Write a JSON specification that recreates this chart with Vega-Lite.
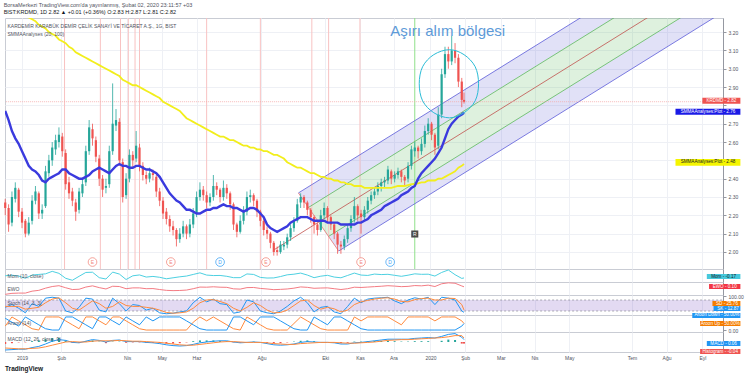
{
"$schema":"https://vega.github.io/schema/vega-lite/v6.json",
"padding":{"left":3,"top":2,"right":2,"bottom":0},
"background":"white",
"spacing":0,
"bounds":"flush",
"title":{"text":"BorsaMerkezi TradingView.com'da yayınlanmış, Şubat 02, 2020 23:11:57 +03","subtitle":"BIST:KRDMD, 1D  2.82 ▲ +0.01 (+0.36%)  O:2.83  H:2.87  L:2.81  C:2.82","anchor":"start","frame":"bounds","fontSize":5.5,"fontWeight":"normal","color":"#50535e","subtitleFontSize":5.5,"subtitleColor":"#131722","subtitlePadding":1.5,"offset":2},
"config":{"view":{"stroke":"#c9ccd4","strokeWidth":1},"font":"Liberation Sans","text":{"font":"Liberation Sans"}},
"resolve":{"scale":{"x":"independent","y":"independent"}},
"datasets":{
"k":[
{"d":"2018-12-17","o":2.27,"h":2.29,"l":2.20,"c":2.24,"s20":2.77,"s100":3.37},
{"d":"2018-12-20","o":2.24,"h":2.26,"l":2.11,"c":2.15,"s20":2.72,"s100":3.36},
{"d":"2018-12-23","o":2.16,"h":2.33,"l":2.14,"c":2.30,"s20":2.66,"s100":3.34},
{"d":"2018-12-26","o":2.29,"h":2.38,"l":2.27,"c":2.35,"s20":2.62,"s100":3.33},
{"d":"2018-12-29","o":2.34,"h":2.35,"l":2.19,"c":2.22,"s20":2.59,"s100":3.32},
{"d":"2019-01-01","o":2.22,"h":2.24,"l":2.13,"c":2.16,"s20":2.55,"s100":3.31},
{"d":"2019-01-04","o":2.17,"h":2.18,"l":2.08,"c":2.10,"s20":2.51,"s100":3.30},
{"d":"2019-01-07","o":2.10,"h":2.19,"l":2.09,"c":2.16,"s20":2.47,"s100":3.28},
{"d":"2019-01-10","o":2.17,"h":2.31,"l":2.15,"c":2.28,"s20":2.45,"s100":3.27},
{"d":"2019-01-13","o":2.28,"h":2.36,"l":2.26,"c":2.33,"s20":2.44,"s100":3.26},
{"d":"2019-01-16","o":2.32,"h":2.33,"l":2.18,"c":2.21,"s20":2.42,"s100":3.24},
{"d":"2019-01-19","o":2.21,"h":2.26,"l":2.18,"c":2.23,"s20":2.39,"s100":3.23},
{"d":"2019-01-22","o":2.25,"h":2.47,"l":2.24,"c":2.44,"s20":2.38,"s100":3.22},
{"d":"2019-01-25","o":2.43,"h":2.53,"l":2.41,"c":2.50,"s20":2.40,"s100":3.20},
{"d":"2019-01-28","o":2.50,"h":2.60,"l":2.47,"c":2.57,"s20":2.41,"s100":3.19},
{"d":"2019-01-31","o":2.56,"h":2.64,"l":2.53,"c":2.61,"s20":2.42,"s100":3.18},
{"d":"2019-02-03","o":2.60,"h":2.68,"l":2.57,"c":2.64,"s20":2.43,"s100":3.16},
{"d":"2019-02-06","o":2.63,"h":2.65,"l":2.52,"c":2.55,"s20":2.45,"s100":3.15},
{"d":"2019-02-09","o":2.54,"h":2.56,"l":2.34,"c":2.37,"s20":2.45,"s100":3.14},
{"d":"2019-02-12","o":2.38,"h":2.41,"l":2.29,"c":2.32,"s20":2.43,"s100":3.12},
{"d":"2019-02-15","o":2.33,"h":2.35,"l":2.25,"c":2.28,"s20":2.42,"s100":3.11},
{"d":"2019-02-18","o":2.27,"h":2.29,"l":2.17,"c":2.22,"s20":2.41,"s100":3.09},
{"d":"2019-02-21","o":2.23,"h":2.35,"l":2.21,"c":2.33,"s20":2.40,"s100":3.08},
{"d":"2019-02-24","o":2.32,"h":2.40,"l":2.30,"c":2.37,"s20":2.40,"s100":3.07},
{"d":"2019-02-27","o":2.38,"h":2.58,"l":2.36,"c":2.55,"s20":2.41,"s100":3.06},
{"d":"2019-03-02","o":2.55,"h":2.72,"l":2.53,"c":2.68,"s20":2.42,"s100":3.05},
{"d":"2019-03-05","o":2.67,"h":2.70,"l":2.58,"c":2.62,"s20":2.44,"s100":3.04},
{"d":"2019-03-08","o":2.61,"h":2.63,"l":2.49,"c":2.52,"s20":2.45,"s100":3.03},
{"d":"2019-03-11","o":2.51,"h":2.53,"l":2.36,"c":2.40,"s20":2.46,"s100":3.02},
{"d":"2019-03-14","o":2.40,"h":2.42,"l":2.30,"c":2.34,"s20":2.45,"s100":3.01},
{"d":"2019-03-17","o":2.35,"h":2.40,"l":2.32,"c":2.36,"s20":2.44,"s100":3.00},
{"d":"2019-03-20","o":2.37,"h":2.58,"l":2.35,"c":2.55,"s20":2.43,"s100":2.99},
{"d":"2019-03-23","o":2.55,"h":2.92,"l":2.53,"c":2.70,"s20":2.45,"s100":2.98},
{"d":"2019-03-26","o":2.69,"h":2.78,"l":2.66,"c":2.72,"s20":2.47,"s100":2.97},
{"d":"2019-03-29","o":2.71,"h":2.73,"l":2.47,"c":2.50,"s20":2.48,"s100":2.96},
{"d":"2019-04-01","o":2.49,"h":2.51,"l":2.27,"c":2.30,"s20":2.47,"s100":2.94},
{"d":"2019-04-04","o":2.31,"h":2.43,"l":2.29,"c":2.40,"s20":2.47,"s100":2.93},
{"d":"2019-04-07","o":2.40,"h":2.56,"l":2.38,"c":2.53,"s20":2.46,"s100":2.92},
{"d":"2019-04-10","o":2.53,"h":2.55,"l":2.46,"c":2.50,"s20":2.46,"s100":2.91},
{"d":"2019-04-13","o":2.51,"h":2.66,"l":2.49,"c":2.58,"s20":2.47,"s100":2.91},
{"d":"2019-04-16","o":2.57,"h":2.59,"l":2.44,"c":2.47,"s20":2.47,"s100":2.90},
{"d":"2019-04-19","o":2.47,"h":2.49,"l":2.39,"c":2.42,"s20":2.46,"s100":2.89},
{"d":"2019-04-22","o":2.42,"h":2.44,"l":2.37,"c":2.40,"s20":2.45,"s100":2.88},
{"d":"2019-04-25","o":2.40,"h":2.46,"l":2.38,"c":2.43,"s20":2.45,"s100":2.87},
{"d":"2019-04-28","o":2.43,"h":2.45,"l":2.39,"c":2.42,"s20":2.44,"s100":2.86},
{"d":"2019-05-01","o":2.41,"h":2.42,"l":2.30,"c":2.33,"s20":2.43,"s100":2.85},
{"d":"2019-05-04","o":2.33,"h":2.35,"l":2.25,"c":2.28,"s20":2.41,"s100":2.84},
{"d":"2019-05-07","o":2.28,"h":2.30,"l":2.18,"c":2.21,"s20":2.38,"s100":2.82},
{"d":"2019-05-10","o":2.22,"h":2.24,"l":2.15,"c":2.18,"s20":2.35,"s100":2.81},
{"d":"2019-05-13","o":2.18,"h":2.20,"l":2.11,"c":2.14,"s20":2.32,"s100":2.80},
{"d":"2019-05-16","o":2.14,"h":2.17,"l":2.09,"c":2.12,"s20":2.30,"s100":2.79},
{"d":"2019-05-19","o":2.12,"h":2.13,"l":2.03,"c":2.07,"s20":2.28,"s100":2.78},
{"d":"2019-05-22","o":2.07,"h":2.13,"l":2.05,"c":2.10,"s20":2.27,"s100":2.77},
{"d":"2019-05-25","o":2.10,"h":2.17,"l":2.08,"c":2.14,"s20":2.25,"s100":2.75},
{"d":"2019-05-28","o":2.14,"h":2.15,"l":2.07,"c":2.10,"s20":2.23,"s100":2.73},
{"d":"2019-05-31","o":2.10,"h":2.18,"l":2.08,"c":2.15,"s20":2.23,"s100":2.72},
{"d":"2019-06-03","o":2.15,"h":2.24,"l":2.13,"c":2.21,"s20":2.22,"s100":2.71},
{"d":"2019-06-06","o":2.21,"h":2.33,"l":2.19,"c":2.30,"s20":2.21,"s100":2.70},
{"d":"2019-06-09","o":2.30,"h":2.38,"l":2.28,"c":2.34,"s20":2.21,"s100":2.69},
{"d":"2019-06-12","o":2.34,"h":2.36,"l":2.28,"c":2.31,"s20":2.22,"s100":2.68},
{"d":"2019-06-15","o":2.31,"h":2.33,"l":2.24,"c":2.27,"s20":2.23,"s100":2.67},
{"d":"2019-06-18","o":2.27,"h":2.32,"l":2.25,"c":2.30,"s20":2.23,"s100":2.66},
{"d":"2019-06-21","o":2.30,"h":2.42,"l":2.28,"c":2.36,"s20":2.24,"s100":2.65},
{"d":"2019-06-24","o":2.36,"h":2.38,"l":2.31,"c":2.34,"s20":2.24,"s100":2.64},
{"d":"2019-06-27","o":2.34,"h":2.35,"l":2.27,"c":2.30,"s20":2.25,"s100":2.63},
{"d":"2019-06-30","o":2.30,"h":2.39,"l":2.28,"c":2.35,"s20":2.26,"s100":2.63},
{"d":"2019-07-03","o":2.35,"h":2.37,"l":2.29,"c":2.32,"s20":2.25,"s100":2.62},
{"d":"2019-07-06","o":2.32,"h":2.33,"l":2.23,"c":2.26,"s20":2.25,"s100":2.61},
{"d":"2019-07-09","o":2.26,"h":2.27,"l":2.12,"c":2.15,"s20":2.24,"s100":2.61},
{"d":"2019-07-12","o":2.15,"h":2.16,"l":2.08,"c":2.11,"s20":2.24,"s100":2.60},
{"d":"2019-07-15","o":2.11,"h":2.20,"l":2.10,"c":2.17,"s20":2.23,"s100":2.59},
{"d":"2019-07-18","o":2.17,"h":2.25,"l":2.15,"c":2.22,"s20":2.22,"s100":2.58},
{"d":"2019-07-21","o":2.22,"h":2.33,"l":2.20,"c":2.30,"s20":2.23,"s100":2.58},
{"d":"2019-07-24","o":2.30,"h":2.34,"l":2.27,"c":2.31,"s20":2.24,"s100":2.57},
{"d":"2019-07-27","o":2.31,"h":2.32,"l":2.25,"c":2.28,"s20":2.24,"s100":2.57},
{"d":"2019-07-30","o":2.28,"h":2.29,"l":2.19,"c":2.22,"s20":2.23,"s100":2.56},
{"d":"2019-08-02","o":2.22,"h":2.23,"l":2.14,"c":2.17,"s20":2.21,"s100":2.56},
{"d":"2019-08-05","o":2.17,"h":2.18,"l":2.09,"c":2.12,"s20":2.19,"s100":2.55},
{"d":"2019-08-08","o":2.12,"h":2.14,"l":2.07,"c":2.10,"s20":2.15,"s100":2.55},
{"d":"2019-08-11","o":2.10,"h":2.11,"l":2.02,"c":2.05,"s20":2.13,"s100":2.54},
{"d":"2019-08-14","o":2.05,"h":2.06,"l":1.98,"c":2.00,"s20":2.12,"s100":2.53},
{"d":"2019-08-17","o":2.01,"h":2.03,"l":1.98,"c":2.00,"s20":2.11,"s100":2.53},
{"d":"2019-08-20","o":2.00,"h":2.06,"l":1.99,"c":2.04,"s20":2.12,"s100":2.52},
{"d":"2019-08-23","o":2.03,"h":2.06,"l":2.01,"c":2.04,"s20":2.13,"s100":2.51},
{"d":"2019-08-26","o":2.04,"h":2.10,"l":2.02,"c":2.08,"s20":2.14,"s100":2.49},
{"d":"2019-08-29","o":2.08,"h":2.15,"l":2.06,"c":2.13,"s20":2.16,"s100":2.48},
{"d":"2019-09-01","o":2.13,"h":2.19,"l":2.11,"c":2.17,"s20":2.17,"s100":2.47},
{"d":"2019-09-04","o":2.17,"h":2.29,"l":2.16,"c":2.26,"s20":2.18,"s100":2.46},
{"d":"2019-09-07","o":2.27,"h":2.32,"l":2.24,"c":2.30,"s20":2.19,"s100":2.46},
{"d":"2019-09-10","o":2.30,"h":2.31,"l":2.24,"c":2.27,"s20":2.19,"s100":2.45},
{"d":"2019-09-13","o":2.27,"h":2.28,"l":2.20,"c":2.23,"s20":2.19,"s100":2.44},
{"d":"2019-09-16","o":2.23,"h":2.24,"l":2.16,"c":2.19,"s20":2.18,"s100":2.43},
{"d":"2019-09-19","o":2.19,"h":2.20,"l":2.10,"c":2.15,"s20":2.17,"s100":2.43},
{"d":"2019-09-22","o":2.15,"h":2.16,"l":2.09,"c":2.12,"s20":2.17,"s100":2.42},
{"d":"2019-09-25","o":2.12,"h":2.23,"l":2.11,"c":2.20,"s20":2.17,"s100":2.41},
{"d":"2019-09-28","o":2.20,"h":2.27,"l":2.18,"c":2.24,"s20":2.17,"s100":2.41},
{"d":"2019-10-01","o":2.24,"h":2.25,"l":2.16,"c":2.19,"s20":2.16,"s100":2.40},
{"d":"2019-10-04","o":2.19,"h":2.20,"l":2.12,"c":2.15,"s20":2.16,"s100":2.40},
{"d":"2019-10-07","o":2.15,"h":2.16,"l":2.07,"c":2.10,"s20":2.16,"s100":2.39},
{"d":"2019-10-10","o":2.10,"h":2.11,"l":1.99,"c":2.04,"s20":2.16,"s100":2.39},
{"d":"2019-10-13","o":2.04,"h":2.06,"l":1.99,"c":2.03,"s20":2.15,"s100":2.38},
{"d":"2019-10-16","o":2.03,"h":2.09,"l":2.01,"c":2.07,"s20":2.15,"s100":2.38},
{"d":"2019-10-19","o":2.07,"h":2.15,"l":2.05,"c":2.13,"s20":2.15,"s100":2.37},
{"d":"2019-10-22","o":2.13,"h":2.20,"l":2.11,"c":2.18,"s20":2.15,"s100":2.37},
{"d":"2019-10-25","o":2.18,"h":2.30,"l":2.16,"c":2.25,"s20":2.15,"s100":2.36},
{"d":"2019-10-28","o":2.25,"h":2.26,"l":2.17,"c":2.20,"s20":2.16,"s100":2.36},
{"d":"2019-10-31","o":2.21,"h":2.23,"l":2.10,"c":2.19,"s20":2.16,"s100":2.36},
{"d":"2019-11-03","o":2.19,"h":2.25,"l":2.17,"c":2.23,"s20":2.17,"s100":2.35},
{"d":"2019-11-06","o":2.23,"h":2.30,"l":2.21,"c":2.28,"s20":2.18,"s100":2.35},
{"d":"2019-11-09","o":2.28,"h":2.33,"l":2.26,"c":2.31,"s20":2.20,"s100":2.35},
{"d":"2019-11-12","o":2.31,"h":2.35,"l":2.29,"c":2.33,"s20":2.21,"s100":2.35},
{"d":"2019-11-15","o":2.33,"h":2.38,"l":2.31,"c":2.36,"s20":2.22,"s100":2.35},
{"d":"2019-11-18","o":2.36,"h":2.40,"l":2.33,"c":2.38,"s20":2.23,"s100":2.35},
{"d":"2019-11-21","o":2.38,"h":2.41,"l":2.35,"c":2.39,"s20":2.25,"s100":2.35},
{"d":"2019-11-24","o":2.39,"h":2.47,"l":2.37,"c":2.45,"s20":2.26,"s100":2.35},
{"d":"2019-11-27","o":2.44,"h":2.45,"l":2.37,"c":2.40,"s20":2.27,"s100":2.35},
{"d":"2019-11-30","o":2.40,"h":2.44,"l":2.38,"c":2.42,"s20":2.28,"s100":2.355},
{"d":"2019-12-03","o":2.42,"h":2.46,"l":2.40,"c":2.44,"s20":2.29,"s100":2.36},
{"d":"2019-12-06","o":2.44,"h":2.45,"l":2.38,"c":2.41,"s20":2.31,"s100":2.36},
{"d":"2019-12-09","o":2.41,"h":2.42,"l":2.36,"c":2.39,"s20":2.32,"s100":2.36},
{"d":"2019-12-12","o":2.40,"h":2.49,"l":2.38,"c":2.47,"s20":2.33,"s100":2.365},
{"d":"2019-12-15","o":2.47,"h":2.58,"l":2.45,"c":2.56,"s20":2.35,"s100":2.37},
{"d":"2019-12-18","o":2.55,"h":2.60,"l":2.52,"c":2.57,"s20":2.36,"s100":2.37},
{"d":"2019-12-21","o":2.57,"h":2.58,"l":2.51,"c":2.55,"s20":2.40,"s100":2.375},
{"d":"2019-12-24","o":2.55,"h":2.62,"l":2.53,"c":2.59,"s20":2.43,"s100":2.38},
{"d":"2019-12-27","o":2.59,"h":2.69,"l":2.57,"c":2.66,"s20":2.45,"s100":2.38},
{"d":"2019-12-30","o":2.66,"h":2.73,"l":2.64,"c":2.70,"s20":2.47,"s100":2.39},
{"d":"2020-01-02","o":2.70,"h":2.71,"l":2.61,"c":2.64,"s20":2.49,"s100":2.39},
{"d":"2020-01-05","o":2.64,"h":2.65,"l":2.53,"c":2.57,"s20":2.51,"s100":2.39},
{"d":"2020-01-08","o":2.58,"h":2.79,"l":2.56,"c":2.75,"s20":2.54,"s100":2.40},
{"d":"2020-01-11","o":2.75,"h":3.00,"l":2.73,"c":2.97,"s20":2.57,"s100":2.40},
{"d":"2020-01-14","o":2.97,"h":3.12,"l":2.95,"c":3.08,"s20":2.62,"s100":2.41},
{"d":"2020-01-17","o":3.08,"h":3.12,"l":3.00,"c":3.04,"s20":2.67,"s100":2.42},
{"d":"2020-01-20","o":3.04,"h":3.18,"l":3.02,"c":3.10,"s20":2.70,"s100":2.43},
{"d":"2020-01-23","o":3.10,"h":3.14,"l":3.03,"c":3.06,"s20":2.72,"s100":2.44},
{"d":"2020-01-26","o":3.06,"h":3.08,"l":2.90,"c":2.93,"s20":2.74,"s100":2.46},
{"d":"2020-01-29","o":2.93,"h":2.95,"l":2.79,"c":2.83,"s20":2.75,"s100":2.47},
{"d":"2020-01-31","o":2.83,"h":2.87,"l":2.81,"c":2.82,"s20":2.76,"s100":2.48}
],
"ind":[
{"d":"2018-12-17","mom":0.00,"ewo":-0.45,"sk":40,"sd":45,"au":30,"ad":90,"m":-0.20,"sg":-0.15,"h":-0.05},
{"d":"2018-12-23","mom":0.05,"ewo":-0.38,"sk":55,"sd":45,"au":100,"ad":60,"m":-0.19,"sg":-0.16,"h":-0.03},
{"d":"2018-12-29","mom":-0.02,"ewo":-0.36,"sk":35,"sd":45,"au":70,"ad":30,"m":-0.18,"sg":-0.17,"h":-0.01},
{"d":"2019-01-04","mom":-0.20,"ewo":-0.36,"sk":10,"sd":30,"au":40,"ad":100,"m":-0.18,"sg":-0.17,"h":-0.01},
{"d":"2019-01-10","mom":0.06,"ewo":-0.22,"sk":60,"sd":35,"au":10,"ad":70,"m":-0.14,"sg":-0.16,"h":0.02},
{"d":"2019-01-16","mom":0.11,"ewo":-0.16,"sk":45,"sd":40,"au":0,"ad":40,"m":-0.11,"sg":-0.15,"h":0.04},
{"d":"2019-01-22","mom":0.16,"ewo":0.00,"sk":90,"sd":65,"au":100,"ad":10,"m":-0.05,"sg":-0.12,"h":0.07},
{"d":"2019-01-28","mom":0.36,"ewo":0.12,"sk":95,"sd":85,"au":100,"ad":0,"m":0.02,"sg":-0.08,"h":0.10},
{"d":"2019-02-03","mom":0.20,"ewo":0.18,"sk":90,"sd":92,"au":100,"ad":0,"m":0.06,"sg":-0.04,"h":0.10},
{"d":"2019-02-09","mom":-0.20,"ewo":0.03,"sk":20,"sd":65,"au":70,"ad":100,"m":0.04,"sg":0.00,"h":0.04},
{"d":"2019-02-15","mom":-0.36,"ewo":-0.10,"sk":10,"sd":35,"au":40,"ad":100,"m":-0.01,"sg":0.01,"h":-0.02},
{"d":"2019-02-21","mom":-0.04,"ewo":-0.08,"sk":40,"sd":25,"au":10,"ad":70,"m":-0.02,"sg":0.00,"h":-0.02},
{"d":"2019-02-27","mom":0.27,"ewo":0.08,"sk":90,"sd":50,"au":100,"ad":40,"m":0.02,"sg":0.00,"h":0.02},
{"d":"2019-03-05","mom":0.29,"ewo":0.17,"sk":85,"sd":75,"au":100,"ad":10,"m":0.06,"sg":0.02,"h":0.04},
{"d":"2019-03-11","mom":-0.15,"ewo":0.04,"sk":25,"sd":60,"au":70,"ad":100,"m":0.04,"sg":0.03,"h":0.01},
{"d":"2019-03-17","mom":-0.26,"ewo":-0.06,"sk":15,"sd":35,"au":40,"ad":100,"m":0.00,"sg":0.03,"h":-0.03},
{"d":"2019-03-23","mom":0.30,"ewo":0.14,"sk":90,"sd":45,"au":100,"ad":70,"m":0.04,"sg":0.03,"h":0.01},
{"d":"2019-03-29","mom":0.14,"ewo":0.12,"sk":60,"sd":70,"au":100,"ad":40,"m":0.05,"sg":0.04,"h":0.01},
{"d":"2019-04-04","mom":-0.30,"ewo":-0.04,"sk":20,"sd":50,"au":70,"ad":100,"m":0.01,"sg":0.03,"h":-0.02},
{"d":"2019-04-10","mom":0.00,"ewo":0.02,"sk":55,"sd":45,"au":40,"ad":70,"m":0.01,"sg":0.02,"h":-0.01},
{"d":"2019-04-16","mom":0.07,"ewo":0.02,"sk":50,"sd":45,"au":10,"ad":40,"m":0.01,"sg":0.02,"h":-0.01},
{"d":"2019-04-22","mom":-0.10,"ewo":-0.04,"sk":25,"sd":40,"au":0,"ad":100,"m":-0.01,"sg":0.01,"h":-0.02},
{"d":"2019-04-28","mom":-0.05,"ewo":-0.03,"sk":35,"sd":35,"au":0,"ad":70,"m":-0.02,"sg":0.00,"h":-0.02},
{"d":"2019-05-04","mom":-0.12,"ewo":-0.10,"sk":10,"sd":25,"au":0,"ad":100,"m":-0.04,"sg":-0.01,"h":-0.03},
{"d":"2019-05-10","mom":-0.24,"ewo":-0.16,"sk":5,"sd":12,"au":0,"ad":100,"m":-0.07,"sg":-0.03,"h":-0.04},
{"d":"2019-05-16","mom":-0.16,"ewo":-0.18,"sk":8,"sd":8,"au":0,"ad":100,"m":-0.09,"sg":-0.05,"h":-0.04},
{"d":"2019-05-22","mom":-0.08,"ewo":-0.17,"sk":15,"sd":10,"au":0,"ad":100,"m":-0.10,"sg":-0.07,"h":-0.03},
{"d":"2019-05-28","mom":-0.02,"ewo":-0.14,"sk":20,"sd":15,"au":0,"ad":70,"m":-0.09,"sg":-0.08,"h":-0.01},
{"d":"2019-06-03","mom":0.11,"ewo":-0.04,"sk":65,"sd":35,"au":60,"ad":40,"m":-0.06,"sg":-0.08,"h":0.02},
{"d":"2019-06-09","mom":0.24,"ewo":0.08,"sk":95,"sd":65,"au":100,"ad":10,"m":-0.02,"sg":-0.06,"h":0.04},
{"d":"2019-06-15","mom":0.06,"ewo":0.07,"sk":70,"sd":80,"au":70,"ad":0,"m":0.00,"sg":-0.04,"h":0.04},
{"d":"2019-06-21","mom":0.02,"ewo":0.10,"sk":85,"sd":82,"au":100,"ad":0,"m":0.02,"sg":-0.02,"h":0.04},
{"d":"2019-06-27","mom":0.03,"ewo":0.07,"sk":60,"sd":72,"au":70,"ad":0,"m":0.03,"sg":0.00,"h":0.03},
{"d":"2019-07-03","mom":-0.04,"ewo":0.06,"sk":55,"sd":60,"au":40,"ad":0,"m":0.03,"sg":0.01,"h":0.02},
{"d":"2019-07-09","mom":-0.15,"ewo":-0.05,"sk":8,"sd":35,"au":10,"ad":100,"m":0.00,"sg":0.01,"h":-0.01},
{"d":"2019-07-15","mom":-0.15,"ewo":-0.07,"sk":15,"sd":20,"au":0,"ad":100,"m":-0.02,"sg":0.00,"h":-0.02},
{"d":"2019-07-21","mom":0.15,"ewo":0.04,"sk":80,"sd":40,"au":100,"ad":70,"m":-0.01,"sg":-0.01,"h":0.00},
{"d":"2019-07-27","mom":0.11,"ewo":0.05,"sk":70,"sd":65,"au":70,"ad":40,"m":0.00,"sg":-0.01,"h":0.01},
{"d":"2019-08-02","mom":-0.13,"ewo":-0.02,"sk":20,"sd":50,"au":40,"ad":100,"m":-0.01,"sg":-0.01,"h":0.00},
{"d":"2019-08-08","mom":-0.18,"ewo":-0.06,"sk":10,"sd":25,"au":10,"ad":100,"m":-0.04,"sg":-0.02,"h":-0.02},
{"d":"2019-08-14","mom":-0.17,"ewo":-0.11,"sk":5,"sd":10,"au":0,"ad":100,"m":-0.07,"sg":-0.04,"h":-0.03},
{"d":"2019-08-20","mom":-0.06,"ewo":-0.09,"sk":20,"sd":12,"au":0,"ad":70,"m":-0.08,"sg":-0.05,"h":-0.03},
{"d":"2019-08-26","mom":0.08,"ewo":-0.06,"sk":45,"sd":25,"au":0,"ad":40,"m":-0.07,"sg":-0.06,"h":-0.01},
{"d":"2019-09-01","mom":0.13,"ewo":0.00,"sk":75,"sd":50,"au":50,"ad":10,"m":-0.05,"sg":-0.06,"h":0.01},
{"d":"2019-09-07","mom":0.22,"ewo":0.09,"sk":95,"sd":75,"au":100,"ad":0,"m":-0.01,"sg":-0.04,"h":0.03},
{"d":"2019-09-13","mom":0.06,"ewo":0.06,"sk":65,"sd":80,"au":70,"ad":0,"m":0.01,"sg":-0.03,"h":0.04},
{"d":"2019-09-19","mom":-0.15,"ewo":-0.01,"sk":15,"sd":50,"au":40,"ad":100,"m":0.00,"sg":-0.02,"h":0.02},
{"d":"2019-09-25","mom":-0.03,"ewo":0.01,"sk":40,"sd":30,"au":10,"ad":70,"m":-0.01,"sg":-0.01,"h":0.00},
{"d":"2019-10-01","mom":0.04,"ewo":0.02,"sk":45,"sd":40,"au":0,"ad":40,"m":-0.01,"sg":-0.01,"h":0.00},
{"d":"2019-10-07","mom":-0.10,"ewo":-0.04,"sk":15,"sd":32,"au":0,"ad":100,"m":-0.02,"sg":-0.01,"h":-0.01},
{"d":"2019-10-13","mom":-0.16,"ewo":-0.10,"sk":5,"sd":15,"au":0,"ad":100,"m":-0.05,"sg":-0.02,"h":-0.03},
{"d":"2019-10-19","mom":0.03,"ewo":-0.04,"sk":45,"sd":25,"au":0,"ad":70,"m":-0.05,"sg":-0.03,"h":-0.02},
{"d":"2019-10-25","mom":0.22,"ewo":0.07,"sk":90,"sd":55,"au":100,"ad":40,"m":-0.02,"sg":-0.03,"h":0.01},
{"d":"2019-10-31","mom":0.06,"ewo":0.05,"sk":65,"sd":70,"au":70,"ad":10,"m":-0.01,"sg":-0.02,"h":0.01},
{"d":"2019-11-06","mom":0.03,"ewo":0.08,"sk":85,"sd":78,"au":100,"ad":0,"m":0.01,"sg":-0.01,"h":0.02},
{"d":"2019-11-12","mom":0.14,"ewo":0.11,"sk":90,"sd":85,"au":100,"ad":0,"m":0.03,"sg":0.00,"h":0.03},
{"d":"2019-11-18","mom":0.10,"ewo":0.14,"sk":92,"sd":90,"au":100,"ad":0,"m":0.05,"sg":0.02,"h":0.03},
{"d":"2019-11-24","mom":0.12,"ewo":0.18,"sk":95,"sd":92,"au":100,"ad":0,"m":0.07,"sg":0.04,"h":0.03},
{"d":"2019-11-30","mom":0.04,"ewo":0.15,"sk":75,"sd":85,"au":70,"ad":0,"m":0.07,"sg":0.05,"h":0.02},
{"d":"2019-12-06","mom":-0.04,"ewo":0.11,"sk":60,"sd":72,"au":40,"ad":0,"m":0.07,"sg":0.06,"h":0.01},
{"d":"2019-12-12","mom":0.05,"ewo":0.13,"sk":80,"sd":70,"au":100,"ad":0,"m":0.07,"sg":0.06,"h":0.01},
{"d":"2019-12-18","mom":0.16,"ewo":0.19,"sk":92,"sd":82,"au":100,"ad":0,"m":0.09,"sg":0.07,"h":0.02},
{"d":"2019-12-24","mom":0.12,"ewo":0.17,"sk":85,"sd":88,"au":100,"ad":0,"m":0.10,"sg":0.08,"h":0.02},
{"d":"2019-12-30","mom":0.13,"ewo":0.22,"sk":95,"sd":90,"au":100,"ad":0,"m":0.11,"sg":0.09,"h":0.02},
{"d":"2020-01-05","mom":-0.02,"ewo":0.12,"sk":55,"sd":80,"au":70,"ad":0,"m":0.10,"sg":0.10,"h":0.00},
{"d":"2020-01-11","mom":0.27,"ewo":0.32,"sk":95,"sd":80,"au":100,"ad":0,"m":0.14,"sg":0.11,"h":0.03},
{"d":"2020-01-17","mom":0.47,"ewo":0.39,"sk":90,"sd":90,"au":100,"ad":0,"m":0.19,"sg":0.13,"h":0.06},
{"d":"2020-01-23","mom":0.09,"ewo":0.36,"sk":80,"sd":88,"au":100,"ad":0,"m":0.21,"sg":0.16,"h":0.05},
{"d":"2020-01-29","mom":-0.21,"ewo":0.16,"sk":20,"sd":55,"au":70,"ad":30,"m":0.12,"sg":0.16,"h":-0.04},
{"d":"2020-01-31","mom":-0.17,"ewo":0.10,"sk":12.87,"sd":25.76,"au":50,"ad":50,"m":0.06,"sg":0.10,"h":-0.04}
],
"events":[{"d":"2019-02-08","k":"e"},{"d":"2019-03-12","k":"e"},{"d":"2019-03-30","k":"e"},{"d":"2019-04-06","k":"e"},{"d":"2019-04-12","k":"e"},{"d":"2019-04-16","k":"e"},{"d":"2019-06-15","k":"e"},{"d":"2019-08-02","k":"e"},{"d":"2019-09-17","k":"e"},{"d":"2019-10-02","k":"e"},{"d":"2019-10-30","k":"e"},{"d":"2019-12-18","k":"g"}],
"chan":[
{"band":"ub","d":"2019-09-05","y":2.322,"y2":2.322},{"band":"ub","d":"2019-09-14","y":2.356,"y2":2.243},{"band":"ub","d":"2020-09-25","y":3.786,"y2":3.672},
{"band":"gb","d":"2019-09-14","y":2.243,"y2":2.243},{"band":"gb","d":"2019-10-02","y":2.311,"y2":2.085},{"band":"gb","d":"2020-09-25","y":3.672,"y2":3.447},
{"band":"lb","d":"2019-10-02","y":2.085,"y2":2.085},{"band":"lb","d":"2019-10-11","y":2.119,"y2":2.005},{"band":"lb","d":"2020-09-25","y":3.447,"y2":3.334}
],
"chl":[
{"ln":"top","d":"2019-09-05","p":2.322},{"ln":"top","d":"2020-09-25","p":3.786},
{"ln":"ug","d":"2019-09-14","p":2.243},{"ln":"ug","d":"2020-09-25","p":3.672},
{"ln":"med","d":"2019-08-14","p":2.011},{"ln":"med","d":"2020-09-25","p":3.560},
{"ln":"lg","d":"2019-10-02","p":2.085},{"ln":"lg","d":"2020-09-25","p":3.447},
{"ln":"bot","d":"2019-10-11","p":2.005},{"ln":"bot","d":"2020-09-25","p":3.334},
{"ln":"edge","d":"2019-09-05","p":2.322},{"ln":"edge","d":"2019-10-11","p":2.005}
],
"loop":[
{"i":1,"d":"2020-02-13","p":2.918},{"i":2,"d":"2020-02-10","p":3.011},{"i":3,"d":"2020-01-31","p":3.077},{"i":4,"d":"2020-01-18","p":3.104},{"i":5,"d":"2020-01-04","p":3.077},{"i":6,"d":"2019-12-25","p":3.011},{"i":7,"d":"2019-12-22","p":2.918},{"i":8,"d":"2019-12-25","p":2.825},{"i":9,"d":"2020-01-04","p":2.760},{"i":10,"d":"2020-01-18","p":2.732},{"i":11,"d":"2020-01-31","p":2.760},{"i":12,"d":"2020-02-10","p":2.825}
],
"ev":[{"d":"2019-03-05","k":"E","p":1.945},{"d":"2019-05-14","k":"E","p":1.945},{"d":"2019-06-27","k":"D","p":1.945},{"d":"2019-08-07","k":"E","p":1.945},{"d":"2019-10-31","k":"E","p":1.945},{"d":"2019-11-26","k":"D","p":1.945}],
"tm":[
{"k":"r","d":"2020-08-31","d2":"2020-10-04","p1":2.842,"p2":2.809,"pm":2.8255,"dc":"2020-09-17","t":"KRDMD - 2.82"},
{"k":"b","d":"2020-08-07","d2":"2020-10-04","p1":2.781,"p2":2.749,"pm":2.765,"dc":"2020-09-05","t":"SMMAAnalyses:Plot - 2.76"},
{"k":"y","d":"2020-08-07","d2":"2020-10-04","p1":2.508,"p2":2.470,"pm":2.489,"dc":"2020-09-05","t":"SMMAAnalyses:Plot - 2.48"}
]
},
"vconcat":[
{
"width":718,"height":251,
"resolve":{"scale":{"color":"independent","fill":"independent","stroke":"independent"}},
"encoding":{"x":{"field":"d","type":"temporal","scale":{"type":"utc","domain":[1544986800000,1600426800000]},"axis":{"title":null,"labels":false,"ticks":false,"domain":false,"grid":true,"gridColor":"#eef0f5","values":[1546300800000,1549324800000,1554422400000,1557100800000,1559779200000,1564790400000,1569715200000,1572393600000,1574985600000,1577836800000,1580515200000,1583280000000,1585872000000,1588550400000,1593388800000,1596067200000,1598832000000]}}},
"layer":[
{"data":{"name":"chan"},"mark":{"type":"area","clip":true,"opacity":0.2},"encoding":{"y":{"field":"y","type":"quantitative","scale":{"domain":[1.907,3.277],"nice":false,"zero":false},"axis":{"orient":"right","title":null,"values":[2,2.1,2.2,2.3,2.4,2.5,2.6,2.7,2.8,2.9,3,3.1,3.2],"tickCount":13,"labelExpr":"abs(datum.value-2.5)<0.01 || abs(datum.value-2.8)<0.01 ? '' : format(datum.value,'.2f')","labelOverlap":false,"labelFontSize":5,"labelColor":"#50535e","tickSize":3,"tickColor":"#9598a1","domainColor":"#9598a1","grid":true,"gridColor":"#eef0f5","labelPadding":2}},"y2":{"field":"y2"},"color":{"field":"band","type":"nominal","scale":{"domain":["ub","gb","lb"],"range":["#6a6ad8","#5cb85c","#6b6bd9"]},"legend":null}}},
{"data":{"name":"events"},"mark":{"type":"rule","strokeWidth":1},"encoding":{"color":{"field":"k","type":"nominal","scale":{"domain":["e","g"],"range":["#f8c2c2","#8fe08a"]},"legend":null}}},
{"data":{"name":"chl"},"mark":{"type":"line","clip":true,"strokeWidth":0.8},"encoding":{"y":{"field":"p","type":"quantitative","scale":{"domain":[1.907,3.277],"nice":false,"zero":false},"axis":{"orient":"right","title":null,"values":[2,2.1,2.2,2.3,2.4,2.5,2.6,2.7,2.8,2.9,3,3.1,3.2],"tickCount":13,"labelExpr":"abs(datum.value-2.5)<0.01 || abs(datum.value-2.8)<0.01 ? '' : format(datum.value,'.2f')","labelOverlap":false,"labelFontSize":5,"labelColor":"#50535e","tickSize":3,"tickColor":"#9598a1","domainColor":"#9598a1","grid":true,"gridColor":"#eef0f5","labelPadding":2}},"color":{"field":"ln","type":"nominal","scale":{"domain":["top","ug","med","lg","bot","edge"],"range":["#5b5bd8","#5cb85c","#c0504d","#5db95d","#5c5cd9","#e57373"]},"legend":null}}},
{"data":{"values":[{"d":"2018-12-16","d2":"2020-09-25","p":2.82}]},"mark":{"type":"rule","color":"#f5a8a8","strokeWidth":0.8,"strokeDash":[1,1],"clip":true},"encoding":{"x2":{"field":"d2"},"y":{"field":"p","type":"quantitative"}}},
{"data":{"name":"k"},"mark":{"type":"rule","strokeWidth":0.8},"encoding":{"y":{"field":"l","type":"quantitative"},"y2":{"field":"h"},"color":{"condition":{"test":"datum.c >= datum.o","value":"#26a69a"},"value":"#ef5350"}}},
{"data":{"name":"k"},"mark":{"type":"rule","strokeWidth":2.2},"encoding":{"y":{"field":"o","type":"quantitative"},"y2":{"field":"c"},"color":{"condition":{"test":"datum.c >= datum.o","value":"#26a69a"},"value":"#ef5350"}}},
{"data":{"name":"k"},"mark":{"type":"line","color":"#f2ee1c","strokeWidth":1.8,"clip":true},"encoding":{"y":{"field":"s100","type":"quantitative"}}},
{"data":{"name":"k"},"mark":{"type":"line","color":"#3a3ade","strokeWidth":2.4,"clip":true},"encoding":{"y":{"field":"s20","type":"quantitative"}}},
{"data":{"name":"loop"},"mark":{"type":"line","color":"#2bbcd6","strokeWidth":1,"interpolate":"cardinal-closed"},"encoding":{"y":{"field":"p","type":"quantitative"},"order":{"field":"i","type":"quantitative"}}},
{"data":{"values":[{"d":"2018-12-19","p":3.235,"t":"KARDEMİR KARABÜK DEMİR ÇELİK SANAYİ VE TİCARET A.Ş., 1G, BIST"},{"d":"2018-12-19","p":3.191,"t":"SMMAAnalyses (20, 100)"}]},"mark":{"type":"text","align":"left","baseline":"middle","fontSize":5,"color":"#50535e"},"encoding":{"y":{"field":"p","type":"quantitative"},"text":{"field":"t"}}},
{"data":{"values":[{"d":"2019-11-26","p":3.18,"t":"Aşırı alım bölgesi"}]},"mark":{"type":"text","align":"left","baseline":"alphabetic","fontSize":15,"color":"#5d9ad8"},"encoding":{"y":{"field":"p","type":"quantitative"},"text":{"field":"t"}}},
{"data":{"name":"ev"},"mark":{"type":"point","shape":"circle","size":75,"filled":true,"fill":"white","fillOpacity":1,"strokeWidth":0.8,"opacity":1},"encoding":{"y":{"field":"p","type":"quantitative"},"stroke":{"field":"k","type":"nominal","scale":{"domain":["E","D"],"range":["#f28b82","#42a5f5"]},"legend":null}}},
{"data":{"name":"ev"},"mark":{"type":"text","fontSize":5,"baseline":"middle","align":"center"},"encoding":{"y":{"field":"p","type":"quantitative"},"text":{"field":"k"},"color":{"field":"k","type":"nominal","scale":{"domain":["E","D"],"range":["#f28b82","#42a5f5"]},"legend":null}}},
{"data":{"values":[{"d":"2019-12-18","p":2.098,"t":"R"}]},"mark":{"type":"point","shape":"square","size":50,"filled":true,"color":"#4a4a4a","opacity":1},"encoding":{"y":{"field":"p","type":"quantitative"}}},
{"data":{"values":[{"d":"2019-12-18","p":2.098,"t":"R"}]},"mark":{"type":"text","fontSize":5,"color":"white","baseline":"middle"},"encoding":{"y":{"field":"p","type":"quantitative"},"text":{"field":"t"}}},
{"data":{"name":"tm"},"mark":{"type":"rect"},"encoding":{"x2":{"field":"d2"},"y":{"field":"p1","type":"quantitative"},"y2":{"field":"p2"},"fill":{"field":"k","type":"nominal","scale":{"domain":["r","b","y"],"range":["#ef5350","#1a1ae6","#f5f500"]},"legend":null}}},
{"data":{"name":"tm"},"mark":{"type":"text","fontSize":4.6,"baseline":"middle","align":"center"},"encoding":{"x":{"field":"dc","type":"temporal"},"y":{"field":"pm","type":"quantitative"},"text":{"field":"t"},"color":{"field":"k","type":"nominal","scale":{"domain":["r","b","y"],"range":["#ffffff","#ffffff","#131722"]},"legend":null}}}
]
},
{
"width":718,"height":13,
"encoding":{"x":{"field":"d","type":"temporal","scale":{"type":"utc","domain":[1544986800000,1600426800000]},"axis":{"title":null,"labels":false,"ticks":false,"domain":false,"grid":true,"gridColor":"#eef0f5","values":[1546300800000,1549324800000,1554422400000,1557100800000,1559779200000,1564790400000,1569715200000,1572393600000,1574985600000,1577836800000,1580515200000,1583280000000,1585872000000,1588550400000,1593388800000,1596067200000,1598832000000]}}},
"layer":[
{"data":{"name":"ind"},"mark":{"type":"line","color":"#4dd0e1","strokeWidth":1,"clip":true},"encoding":{"y":{"field":"mom","type":"quantitative","scale":{"domain":[-0.5,0.55],"nice":false,"zero":false},"axis":{"orient":"right","title":null,"labels":false,"ticks":false,"grid":false,"domainColor":"#9598a1"}}}},
{"data":{"values":[{"d":"2018-12-19","p":-0.015,"t":"Mom (10, close)"}]},"mark":{"type":"text","align":"left","baseline":"middle","fontSize":5,"color":"#50535e"},"encoding":{"y":{"field":"p","type":"quantitative"},"text":{"field":"t"}}},
{"data":{"values":[{"d":"2020-09-04","d2":"2020-10-04","p1":0.146,"p2":-0.258}]},"mark":{"type":"rect","color":"#47c9dc"},"encoding":{"x2":{"field":"d2"},"y":{"field":"p1","type":"quantitative"},"y2":{"field":"p2"}}},
{"data":{"values":[{"dc":"2020-09-19","pm":-0.056,"t":"Mom - -0.17"}]},"mark":{"type":"text","fontSize":4.6,"baseline":"middle","align":"center","color":"#131722"},"encoding":{"x":{"field":"dc","type":"temporal"},"y":{"field":"pm","type":"quantitative"},"text":{"field":"t"}}}
]
},
{
"width":718,"height":13,
"encoding":{"x":{"field":"d","type":"temporal","scale":{"type":"utc","domain":[1544986800000,1600426800000]},"axis":{"title":null,"labels":false,"ticks":false,"domain":false,"grid":true,"gridColor":"#eef0f5","values":[1546300800000,1549324800000,1554422400000,1557100800000,1559779200000,1564790400000,1569715200000,1572393600000,1574985600000,1577836800000,1580515200000,1583280000000,1585872000000,1588550400000,1593388800000,1596067200000,1598832000000]}}},
"layer":[
{"data":{"name":"ind"},"mark":{"type":"line","color":"#f47c84","strokeWidth":1,"clip":true},"encoding":{"y":{"field":"ewo","type":"quantitative","scale":{"domain":[-0.5,0.45],"nice":false,"zero":false},"axis":{"orient":"right","title":null,"labels":false,"ticks":false,"grid":false,"domainColor":"#9598a1"}}}},
{"data":{"values":[{"d":"2018-12-19","p":-0.062,"t":"EWO"}]},"mark":{"type":"text","align":"left","baseline":"middle","fontSize":5,"color":"#50535e"},"encoding":{"y":{"field":"p","type":"quantitative"},"text":{"field":"t"}}},
{"data":{"values":[{"d":"2020-09-06","d2":"2020-10-04","p1":0.304,"p2":-0.062}]},"mark":{"type":"rect","color":"#f23645"},"encoding":{"x2":{"field":"d2"},"y":{"field":"p1","type":"quantitative"},"y2":{"field":"p2"}}},
{"data":{"values":[{"dc":"2020-09-20","pm":0.121,"t":"EWO - 0.10"}]},"mark":{"type":"text","fontSize":4.6,"baseline":"middle","align":"center","color":"#ffffff"},"encoding":{"x":{"field":"dc","type":"temporal"},"y":{"field":"pm","type":"quantitative"},"text":{"field":"t"}}}
]
},
{
"width":718,"height":20,
"resolve":{"scale":{"fill":"independent"}},
"encoding":{"x":{"field":"d","type":"temporal","scale":{"type":"utc","domain":[1544986800000,1600426800000]},"axis":{"title":null,"labels":false,"ticks":false,"domain":false,"grid":true,"gridColor":"#eef0f5","values":[1546300800000,1549324800000,1554422400000,1557100800000,1559779200000,1564790400000,1569715200000,1572393600000,1574985600000,1577836800000,1580515200000,1583280000000,1585872000000,1588550400000,1593388800000,1596067200000,1598832000000]}}},
"layer":[
{"data":{"values":[{"d":"2018-12-16","d2":"2020-09-25","lo":20,"hi":80}]},"mark":{"type":"rect","color":"#7e57c2","opacity":0.22,"clip":true},"encoding":{"x2":{"field":"d2"},"y":{"field":"lo","type":"quantitative","scale":{"domain":[-1.8,107.3],"nice":false,"zero":false},"axis":{"orient":"right","title":null,"values":[100],"format":".2f","labelFontSize":5,"labelColor":"#50535e","tickSize":3,"tickColor":"#9598a1","grid":false,"domainColor":"#9598a1","labelPadding":2}},"y2":{"field":"hi"}}},
{"data":{"values":[{"d":"2018-12-16","d2":"2020-09-25","v":20},{"d":"2018-12-16","d2":"2020-09-25","v":80}]},"mark":{"type":"rule","color":"#787b86","strokeWidth":0.6,"strokeDash":[2,2],"clip":true},"encoding":{"x2":{"field":"d2"},"y":{"field":"v","type":"quantitative"}}},
{"data":{"name":"ind"},"mark":{"type":"line","color":"#2196f3","strokeWidth":1,"clip":true},"encoding":{"y":{"field":"sk","type":"quantitative"}}},
{"data":{"name":"ind"},"mark":{"type":"line","color":"#ff8a3d","strokeWidth":1,"clip":true},"encoding":{"y":{"field":"sd","type":"quantitative"}}},
{"data":{"values":[{"d":"2018-12-19","p":65.3,"t":"Stoch (14, 3, 3)"}]},"mark":{"type":"text","align":"left","baseline":"middle","fontSize":5,"color":"#50535e"},"encoding":{"y":{"field":"p","type":"quantitative"},"text":{"field":"t"}}},
{"data":{"values":[{"k":"o","d":"2020-09-09","d2":"2020-10-04","p1":74.6,"p2":47.3},{"k":"l","d":"2020-09-10","d2":"2020-10-04","p1":47.3,"p2":20.0}]},"mark":{"type":"rect"},"encoding":{"x2":{"field":"d2"},"y":{"field":"p1","type":"quantitative"},"y2":{"field":"p2"},"fill":{"field":"k","type":"nominal","scale":{"domain":["o","l"],"range":["#f57c00","#2196f3"]},"legend":null}}},
{"data":{"values":[{"dc":"2020-09-22","pm":60.9,"t":"SD - 25.76"},{"dc":"2020-09-23","pm":33.6,"t":"SK - 12.87"}]},"mark":{"type":"text","fontSize":4.6,"baseline":"middle","align":"center","color":"#ffffff"},"encoding":{"x":{"field":"dc","type":"temporal"},"y":{"field":"pm","type":"quantitative"},"text":{"field":"t"}}}
]
},
{
"width":718,"height":17,
"resolve":{"scale":{"fill":"independent"}},
"encoding":{"x":{"field":"d","type":"temporal","scale":{"type":"utc","domain":[1544986800000,1600426800000]},"axis":{"title":null,"labels":false,"ticks":false,"domain":false,"grid":true,"gridColor":"#eef0f5","values":[1546300800000,1549324800000,1554422400000,1557100800000,1559779200000,1564790400000,1569715200000,1572393600000,1574985600000,1577836800000,1580515200000,1583280000000,1585872000000,1588550400000,1593388800000,1596067200000,1598832000000]}}},
"layer":[
{"data":{"name":"ind"},"mark":{"type":"line","color":"#ff8a3d","strokeWidth":1,"clip":true},"encoding":{"y":{"field":"au","type":"quantitative","scale":{"domain":[-15,115],"nice":false,"zero":false},"axis":{"orient":"right","title":null,"values":[0],"format":".2f","labelFontSize":5,"labelColor":"#50535e","tickSize":3,"tickColor":"#9598a1","grid":false,"domainColor":"#9598a1","labelPadding":2}}}},
{"data":{"name":"ind"},"mark":{"type":"line","color":"#2196f3","strokeWidth":1,"clip":true},"encoding":{"y":{"field":"ad","type":"quantitative"}}},
{"data":{"values":[{"d":"2018-12-19","p":56.1,"t":"Aroon (14)"}]},"mark":{"type":"text","align":"left","baseline":"middle","fontSize":5,"color":"#50535e"},"encoding":{"y":{"field":"p","type":"quantitative"},"text":{"field":"t"}}},
{"data":{"values":[{"k":"l","d":"2020-08-22","d2":"2020-10-04","p1":130.3,"p2":92.1},{"k":"o","d":"2020-08-29","d2":"2020-10-04","p1":69.1,"p2":30.9}]},"mark":{"type":"rect"},"encoding":{"x2":{"field":"d2"},"y":{"field":"p1","type":"quantitative"},"y2":{"field":"p2"},"fill":{"field":"k","type":"nominal","scale":{"domain":["o","l"],"range":["#f57c00","#2196f3"]},"legend":null}}},
{"data":{"values":[{"dc":"2020-09-13","pm":111.2,"t":"Aroon Down - 50.00%"},{"dc":"2020-09-16","pm":50,"t":"Aroon Up - 50.00%"}]},"mark":{"type":"text","fontSize":4.6,"baseline":"middle","align":"center","color":"#ffffff"},"encoding":{"x":{"field":"dc","type":"temporal"},"y":{"field":"pm","type":"quantitative"},"text":{"field":"t"}}}
]
},
{
"width":718,"height":20,
"title":{"text":"TradingView","orient":"bottom","anchor":"start","frame":"bounds","fontSize":6.5,"fontWeight":"bold","color":"#131722","offset":6},
"resolve":{"scale":{"fill":"independent"}},
"encoding":{"x":{"field":"d","type":"temporal","scale":{"type":"utc","domain":[1544986800000,1600426800000]},"axis":{"title":null,"labels":true,"ticks":false,"domain":false,"grid":true,"gridColor":"#eef0f5","labelFontSize":5,"labelColor":"#50535e","labelPadding":3,"labelOverlap":false,"values":[1546300800000,1549324800000,1554422400000,1557100800000,1559779200000,1564790400000,1569715200000,1572393600000,1574985600000,1577836800000,1580515200000,1583280000000,1585872000000,1588550400000,1593388800000,1596067200000,1598832000000],"labelExpr":"utcmonth(time(datum.value)+432000000)==0 ? ''+utcyear(time(datum.value)+432000000) : ['Oca','Şub','Mar','Nis','May','Haz','Tem','Ağu','Eyl','Eki','Kas','Ara'][utcmonth(time(datum.value)+432000000)]"}}},
"layer":[
{"data":{"name":"ind"},"mark":{"type":"rule","strokeWidth":2,"clip":true},"encoding":{"y":{"field":"h","type":"quantitative","scale":{"domain":[-0.25,0.25],"nice":false,"zero":false},"axis":{"orient":"right","title":null,"labels":false,"ticks":false,"grid":false,"domainColor":"#9598a1"}},"y2":{"datum":0},"color":{"condition":{"test":"datum.h >= 0","value":"#26a69a"},"value":"#ef5350"}}},
{"data":{"name":"ind"},"mark":{"type":"line","color":"#2196f3","strokeWidth":1,"clip":true},"encoding":{"y":{"field":"m","type":"quantitative"}}},
{"data":{"name":"ind"},"mark":{"type":"line","color":"#ff8a3d","strokeWidth":1,"clip":true},"encoding":{"y":{"field":"sg","type":"quantitative"}}},
{"data":{"values":[{"d":"2018-12-19","p":0.075,"t":"MACD (12, 26, close, 9)"}]},"mark":{"type":"text","align":"left","baseline":"middle","fontSize":5,"color":"#50535e"},"encoding":{"y":{"field":"p","type":"quantitative"},"text":{"field":"t"}}},
{"data":{"values":[{"k":"l","d":"2020-09-04","d2":"2020-10-04","p1":0.025,"p2":-0.1},{"k":"r","d":"2020-08-29","d2":"2020-10-04","p1":-0.175,"p2":-0.3}]},"mark":{"type":"rect"},"encoding":{"x2":{"field":"d2"},"y":{"field":"p1","type":"quantitative"},"y2":{"field":"p2"},"fill":{"field":"k","type":"nominal","scale":{"domain":["l","r"],"range":["#2196f3","#ef5350"]},"legend":null}}},
{"data":{"values":[{"dc":"2020-09-19","pm":-0.0375,"t":"MACD - 0.06"},{"dc":"2020-09-16","pm":-0.2375,"t":"Histogram - -0.04"}]},"mark":{"type":"text","fontSize":4.6,"baseline":"middle","align":"center","color":"#ffffff"},"encoding":{"x":{"field":"dc","type":"temporal"},"y":{"field":"pm","type":"quantitative"},"text":{"field":"t"}}}
]
}
]
}
